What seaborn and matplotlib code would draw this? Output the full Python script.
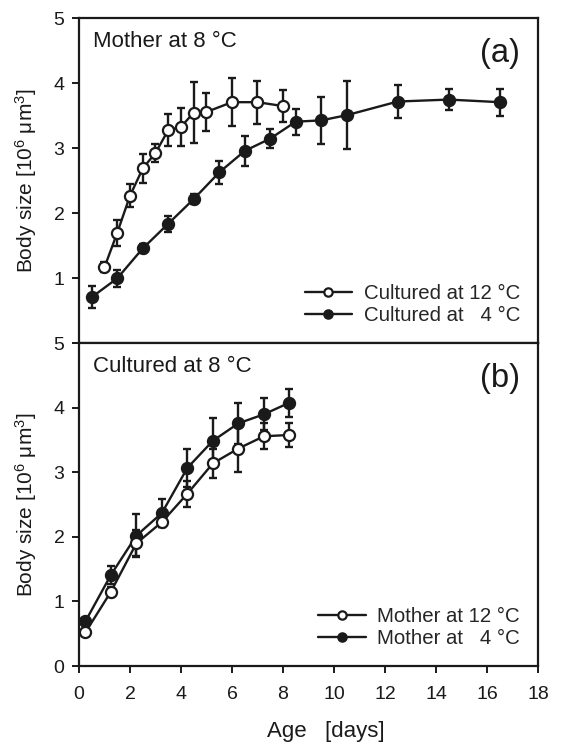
import numpy as np
import pandas as pd
import matplotlib
matplotlib.use("Agg")
import matplotlib.pyplot as plt
import seaborn as sns

# panel (a): mother at 8 C, cultured at 12 C / 4 C
age_c12 = [1.0, 1.5, 2.0, 2.5, 3.0, 3.5, 4.0, 4.5, 5.0, 6.0, 7.0, 8.0]
size_c12 = [1.17, 1.70, 2.27, 2.69, 2.93, 3.28, 3.33, 3.55, 3.56, 3.71, 3.71, 3.65]
err_c12 = [0.08, 0.20, 0.18, 0.22, 0.14, 0.25, 0.29, 0.47, 0.29, 0.37, 0.33, 0.25]

age_c4 = [0.5, 1.5, 2.5, 3.5, 4.5, 5.5, 6.5, 7.5, 8.5, 9.5, 10.5, 12.5, 14.5, 16.5]
size_c4 = [0.71, 1.00, 1.46, 1.84, 2.22, 2.63, 2.96, 3.15, 3.41, 3.43, 3.51, 3.72, 3.75, 3.71]
err_c4 = [0.17, 0.13, 0.07, 0.12, 0.08, 0.18, 0.23, 0.14, 0.20, 0.36, 0.52, 0.26, 0.16, 0.21]

# panel (b): cultured at 8 C, mother at 12 C / 4 C
age_b = [0.25, 1.25, 2.25, 3.25, 4.25, 5.25, 6.25, 7.25, 8.25]
size_m12 = [0.52, 1.15, 1.90, 2.23, 2.67, 3.14, 3.37, 3.56, 3.58]
err_m12 = [0.05, 0.08, 0.20, 0.08, 0.20, 0.23, 0.36, 0.20, 0.19]
size_m4 = [0.69, 1.41, 2.02, 2.37, 3.07, 3.49, 3.76, 3.90, 4.08]
err_m4 = [0.06, 0.14, 0.33, 0.22, 0.29, 0.35, 0.32, 0.25, 0.22]

sns.set_theme(style="ticks")
plt.rcParams['font.family'] = ['Liberation Sans', 'DejaVu Sans']
plt.rcParams['mathtext.fontset'] = 'custom'
plt.rcParams['mathtext.rm'] = 'Liberation Sans'
plt.rcParams['mathtext.default'] = 'regular'

ink = '#1a1a1a'
fig = plt.figure(figsize=(5.65, 7.48), dpi=100)
ax_a = fig.add_axes([0.1398, 0.5410, 0.8124, 0.4345])
ax_b = fig.add_axes([0.1398, 0.1096, 0.8124, 0.4314])


def draw(ax, x, y, e, filled, label):
    df = pd.DataFrame({'x': x, 'y': y})
    ax.errorbar(x, y, yerr=e, fmt='none', ecolor=ink, elinewidth=1.7,
                capsize=3.2, capthick=1.7, zorder=2)
    sns.lineplot(data=df, x='x', y='y', ax=ax, color=ink, linewidth=1.7,
                 marker='o', markersize=8, markeredgewidth=1.6,
                 markeredgecolor=ink,
                 markerfacecolor=ink if filled else 'white',
                 label=label, zorder=3)


draw(ax_a, age_c4, size_c4, err_c4, True, 'Cultured at   4 °C')
draw(ax_a, age_c12, size_c12, err_c12, False, 'Cultured at 12 °C')
draw(ax_b, age_b, size_m4, err_m4, True, 'Mother at   4 °C')
draw(ax_b, age_b, size_m12, err_m12, False, 'Mother at 12 °C')

for ax, title, tag in [(ax_a, 'Mother at 8 °C', '(a)'), (ax_b, 'Cultured at 8 °C', '(b)')]:
    ax.set_xlim(0, 18)
    ax.set_ylim(0, 5)
    ax.set_xticks(np.arange(0, 19, 2))
    ax.set_yticks([0, 1, 2, 3, 4, 5])
    ax.set_ylabel('Body size [10$^{6}$ μm$^{3}$]', fontsize=15, color=ink)
    ax.yaxis.set_label_coords(-0.087, 0.5)
    ax.set_xlabel('')
    for s in ax.spines.values():
        s.set_linewidth(1.6)
        s.set_color(ink)
    ax.tick_params(direction='out', length=5, width=1.4, colors=ink,
                   labelsize=14)
    ax.tick_params(axis='y', pad=5.5)
    ax.tick_params(axis='x', pad=9.5)
    ax.text(0.03, 0.962, title, transform=ax.transAxes, fontsize=16,
            color=ink, va='top', ha='left')
    ax.text(0.961, 0.94, tag, transform=ax.transAxes, fontsize=23.5,
            color=ink, va='top', ha='right')
    h, l = ax.get_legend_handles_labels()
    ax.legend(h[::-1], l[::-1], loc='lower right', bbox_to_anchor=(0.961, 0.055),
              frameon=False, fontsize=14.7, borderpad=0, borderaxespad=0,
              handlelength=2.35, handletextpad=0.55, labelspacing=0.15,
              markerscale=0.75)

ax_a.set_yticklabels(['', '1', '2', '3', '4', '5'])
ax_a.tick_params(axis='x', bottom=False, labelbottom=False)
ax_b.set_xlabel('Age   [days]', fontsize=16, color=ink)
ax_b.xaxis.set_label_coords(0.537, -0.17)

fig.savefig('out.png', dpi=100)
